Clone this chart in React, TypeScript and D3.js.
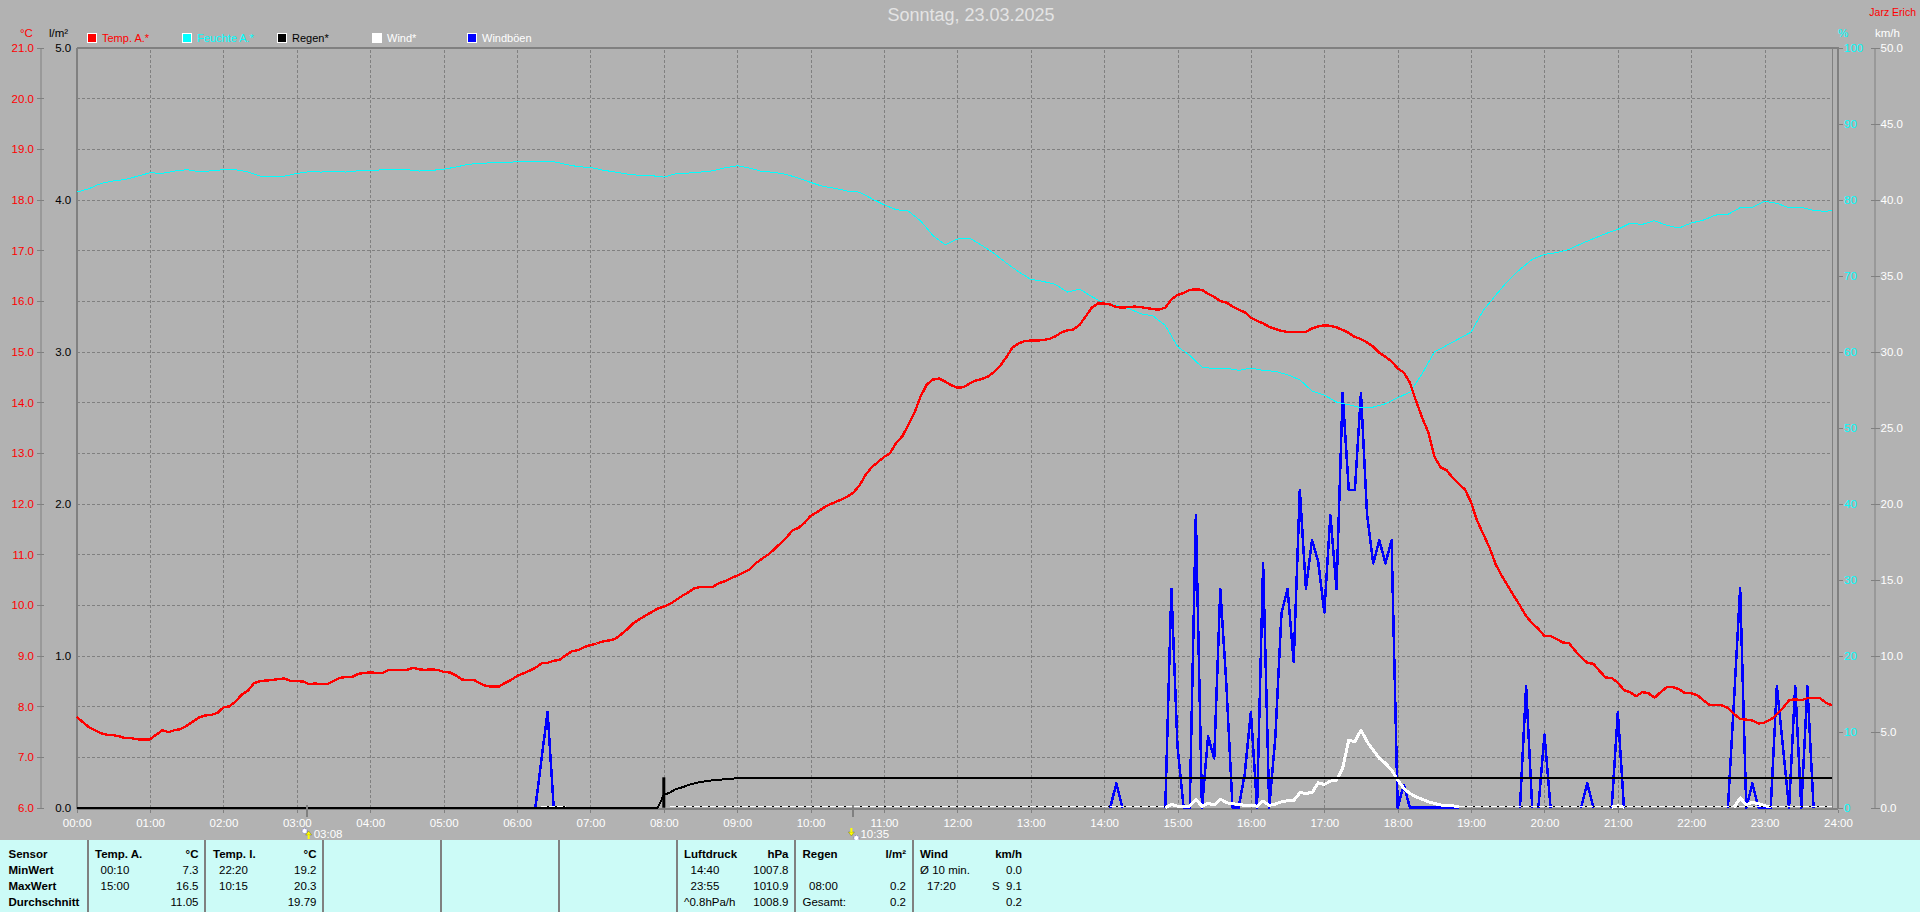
import React, { useEffect, useRef } from 'react';
import * as d3 from 'd3';

const tempA = [
  7.79, 7.69, 7.59, 7.53, 7.47, 7.44, 7.43, 7.41, 7.37, 7.37, 7.35, 7.35,
  7.35, 7.44, 7.53, 7.49, 7.53, 7.55, 7.62, 7.7, 7.78, 7.82, 7.83, 7.87,
  7.98, 8.0, 8.1, 8.23, 8.31, 8.46, 8.5, 8.51, 8.52, 8.54, 8.55, 8.5,
  8.5, 8.49, 8.44, 8.45, 8.44, 8.44, 8.5, 8.56, 8.58, 8.58, 8.64, 8.66,
  8.67, 8.66, 8.66, 8.72, 8.72, 8.72, 8.72, 8.76, 8.73, 8.72, 8.73, 8.72,
  8.68, 8.67, 8.61, 8.53, 8.52, 8.52, 8.45, 8.4, 8.39, 8.39, 8.46, 8.52,
  8.6, 8.65, 8.7, 8.76, 8.85, 8.86, 8.9, 8.92, 9.01, 9.09, 9.11, 9.17,
  9.21, 9.24, 9.28, 9.3, 9.33, 9.42, 9.52, 9.64, 9.72, 9.79, 9.86, 9.93,
  9.97, 10.02, 10.1, 10.18, 10.25, 10.33, 10.36, 10.36, 10.36, 10.43, 10.47, 10.53,
  10.58, 10.64, 10.7, 10.82, 10.91, 10.99, 11.09, 11.21, 11.32, 11.47, 11.52, 11.62,
  11.76, 11.83, 11.91, 11.98, 12.03, 12.08, 12.14, 12.22, 12.36, 12.57, 12.72, 12.82,
  12.92, 13.0, 13.2, 13.33, 13.56, 13.8, 14.12, 14.35, 14.45, 14.47, 14.41, 14.34,
  14.29, 14.3, 14.37, 14.43, 14.46, 14.51, 14.6, 14.72, 14.89, 15.08, 15.16, 15.21,
  15.22, 15.22, 15.23, 15.25, 15.3, 15.38, 15.42, 15.44, 15.53, 15.7, 15.87, 15.95,
  15.95, 15.93, 15.88, 15.87, 15.88, 15.89, 15.88, 15.86, 15.84, 15.83, 15.87, 16.03,
  16.12, 16.16, 16.22, 16.23, 16.22, 16.14, 16.08, 16.0, 15.97, 15.89, 15.83, 15.78,
  15.67, 15.61, 15.56, 15.49, 15.45, 15.41, 15.39, 15.39, 15.39, 15.39, 15.46, 15.5,
  15.52, 15.51, 15.48, 15.43, 15.37, 15.29, 15.25, 15.18, 15.1, 14.98, 14.9, 14.81,
  14.67, 14.59, 14.39, 14.03, 13.7, 13.41, 12.93, 12.72, 12.66, 12.51, 12.39, 12.28,
  12.03, 11.66, 11.4, 11.14, 10.81, 10.58, 10.38, 10.18, 9.99, 9.78, 9.64, 9.53,
  9.39, 9.39, 9.33, 9.26, 9.25, 9.1, 8.97, 8.86, 8.84, 8.7, 8.57, 8.56,
  8.47, 8.32, 8.28, 8.2, 8.28, 8.26, 8.17, 8.28, 8.38, 8.38, 8.34, 8.26,
  8.26, 8.22, 8.12, 8.03, 8.03, 8.02, 7.97, 7.85, 7.75, 7.74, 7.72, 7.66,
  7.68, 7.74, 7.84, 7.97, 8.12, 8.14, 8.12, 8.16, 8.17, 8.17, 8.07, 8.02,
];

const humidity = [
  81.0, 81.45, 82.15, 82.46, 82.68, 83.1,
  83.55, 83.46, 83.77, 83.95, 83.68, 83.8,
  83.95, 83.95, 83.64, 83.1, 83.1, 83.1,
  83.46, 83.68, 83.64, 83.73, 83.64, 83.8,
  83.8, 83.95, 83.95, 83.95, 83.77, 83.86,
  84.0, 84.3, 84.65, 84.78, 84.87, 84.87,
  85, 85, 85, 85, 84.65, 84.34,
  84.25, 83.9, 83.64, 83.38, 83.2, 83.16,
  82.98, 83.42, 83.5, 83.64, 83.8, 84.2,
  84.47, 84.17, 83.73, 83.6, 83.33, 82.85,
  82.28, 81.75, 81.5, 81.14, 81.0, 80.13,
  79.34, 78.68, 78.5, 77.2, 75.3, 74.08,
  74.82, 74.96, 73.99, 72.94, 71.67, 70.53,
  69.52, 69.25, 68.86, 67.85, 68.25, 67.24,
  66.4, 66.09, 65.7, 65.0, 64.7, 63.46,
  60.69, 59.51, 57.97, 57.76, 57.84, 57.54,
  57.84, 57.54, 57.41, 56.97, 56.31, 54.82,
  54.29, 53.37, 53.02, 52.62, 52.71, 53.15,
  53.94, 54.69, 57.1, 59.95, 60.83, 61.7,
  62.58, 65.43, 67.4, 69.3, 70.83, 72.15,
  72.8, 73.03, 73.46, 74.2, 74.87, 75.53,
  76.1, 76.9, 76.75, 77.24, 76.62, 76.27,
  76.93, 77.32, 77.98, 78.07, 78.95, 79.0,
  79.78, 79.52, 78.95, 79.0, 78.6, 78.46,
];

const rainMinutes = [0, 475, 480, 485, 490, 495, 500, 505, 510, 515, 520, 525, 530, 535, 540, 1435];
const rainValues = [0, 0, 0.083, 0.1, 0.123, 0.134, 0.149, 0.16, 0.169, 0.175, 0.18, 0.182, 0.189, 0.189, 0.195, 0.195];
const rainBarMinutes = [480];
const rainBarValues = [0.2];

// null splits the line: between the bursts the gauge stays hidden under the baseline
const gustMinutes = [
  375, 380, 385, 390, null,
  845, 850, 855, null,
  890, 895, 900, 905, 910, 915, 920, 925, 930, 935, 940, 945, 950, 955, 960, 965, 970, 975, 980, 985,
  990, 995, 1000, 1005, 1010, 1015, 1020, 1025, 1030, 1035, 1040, 1045, 1050, 1055, 1060, 1065, 1070,
  1075, 1080, 1085, 1090, 1130, null,
  1180, 1185, 1190, null,
  1195, 1200, 1205, null,
  1230, 1235, 1240, null,
  1255, 1260, 1265, null,
  1350, 1355, 1360, 1365, 1370, 1375, 1385, 1390, 1395, 1400, 1405, 1410, 1415, 1420,
];
const gustValues = [
  0, 3.2, 6.3, 0, null,
  0, 1.6, 0, null,
  0, 14.4, 4, 0, 0, 19.25, 0, 4.7, 3.25, 14.4, 8, 0, 0, 2.25, 6.3, 0, 16.07, 0, 4.67, 12.8,
  14.4, 9.6, 20.9, 14.4, 17.6, 16.2, 12.85, 19.25, 14.4, 27.3, 20.9, 20.9, 27.3, 19.25, 16.07, 17.6, 16.07,
  17.6, 0, 1.5, 0, 0, null,
  0, 8, 0, null,
  0, 4.8, 0, null,
  0, 1.6, 0, null,
  0, 6.3, 0, null,
  0, 7.1, 14.45, 0, 1.6, 0, 0, 8, 4, 0, 8, 0, 8, 0,
];

const windMinutes = [
  890, 895, 900, 905, 910, 915, 920, 925, 930, 935, 940, 945, 950, 955, 960, 965, 970, 975, 980, 985,
  990, 995, 1000, 1005, 1010, 1015, 1020, 1025, 1030, 1035, 1040, 1045, 1050, 1055, 1060, 1065, 1070,
  1075, 1080, 1085, 1090, 1095, 1100, 1105, 1110, 1115, 1120, 1125, 1130, null,
  1255, 1260, 1265, null,
  1355, 1360, 1365, 1370, 1375, 1380, 1385,
];
const windValues = [
  0, 0.22, 0.1, 0.1, 0.1, 0.55, 0.1, 0.28, 0.18, 0.57, 0.33, 0.26, 0.22, 0.15, 0.15, 0.1, 0.44, 0.15, 0.24, 0.39,
  0.46, 0.46, 0.99, 0.95, 0.99, 1.64, 1.53, 1.75, 1.82, 2.59, 4.45, 4.34, 5.11, 4.34, 3.79, 3.25, 2.92,
  2.48, 1.82, 1.27, 0.94, 0.72, 0.55, 0.39, 0.28, 0.18, 0.15, 0.13, 0.06, null,
  0.03, 0.13, 0.03, null,
  0.03, 0.64, 0.2, 0.35, 0.26, 0.13, 0.03,
];
const calmStart = [380, 485, 1130];
const calmEnd = [400, 890, 1435];

const tempTicks = d3.range(6, 22);
const rainTicks = d3.range(0, 6);
const humidityTicks = d3.range(0, 101, 10);
const windTicks = d3.range(0, 51, 5);
const hourTicks = d3.range(0, 25);
const eventMinutes = [188, 635];
const eventLabels = ['03:08', '10:35'];

const legendNames = ['Temp. A.*', 'Feuchte A.*', 'Regen*', 'Wind*', 'Windböen'];
const legendColors = ['#ff0000', '#00ffff', '#000000', '#ffffff', '#0000ff'];
const legendTextColors = ['#ff0000', '#00ffff', '#000000', '#ffffff', '#ffffff'];
const legendX = [87, 182, 277, 372, 467];

const rowLabels = ['Sensor', 'MinWert', 'MaxWert', 'Durchschnitt'];
const panelDividers = [88, 205, 323, 441, 559, 677, 795, 913];
const rowY = [858, 874, 890, 906];

// [left x, time x, right x, header, unit, times, values]
const panelBlocks: [number, number, number, string, string, string[], string[]][] = [
  [95, 100.5, 198.5, 'Temp. A.', '°C', ['00:10', '15:00', ''], ['7.3', '16.5', '11.05']],
  [213, 219, 316.5, 'Temp. I.', '°C', ['22:20', '10:15', ''], ['19.2', '20.3', '19.79']],
  [684, 690.5, 788.5, 'Luftdruck', 'hPa', ['14:40', '23:55', ''], ['1007.8', '1010.9', '1008.9']],
  [802.5, 809, 906, 'Regen', 'l/m²', ['', '08:00', ''], ['', '0.2', '0.2']],
  [920, 927, 1022, 'Wind', 'km/h', ['', '17:20', ''], ['0.0', 'S  9.1', '0.2']],
];

const W = 1920;
const H = 912;
const left = 76.7;
const right = 1838;
const top = 47.7;
const bottom = 807.7;
const BG = '#b2b2b2';
const GRID = '#808080';
const FONT = '"Liberation Sans", Arial, sans-serif';

const App = () => {
  const svgRef = useRef<SVGSVGElement>(null);

  useEffect(() => {
    const svg: any = d3.select(svgRef.current);
    svg.selectAll('*').remove();

    // scales
    const x = d3.scaleLinear().domain([0, 1440]).range([left, right]);
    const yTemp = d3.scaleLinear().domain([6, 21]).range([bottom, top]);
    const yRain = d3.scaleLinear().domain([0, 5]).range([bottom, top]);
    const yHum = d3.scaleLinear().domain([0, 100]).range([bottom, top]);
    const yWind = d3.scaleLinear().domain([0, 50]).range([bottom, top]);

    svg.append('rect').attr('width', W).attr('height', H).attr('fill', BG);

    const styleText = (g: any, color: string) =>
      g.selectAll('text').attr('fill', color).attr('font-family', FONT).attr('font-size', 11.5);

    // grid and x axis
    const xAxis = svg
      .append('g')
      .attr('transform', `translate(0,${bottom})`)
      .call(
        d3
          .axisBottom(x)
          .tickValues(hourTicks.map((h) => h * 60))
          .tickFormat((m: any) => `${String(m / 60).padStart(2, '0')}:00`)
          .tickSizeOuter(0),
      );
    xAxis.select('.domain').remove();
    xAxis
      .selectAll('line')
      .attr('y1', 5)
      .attr('y2', (d: number) => (d === 0 || d === 1440 ? 0 : top - bottom))
      .attr('stroke', GRID)
      .attr('stroke-dasharray', '3 2')
      .attr('shape-rendering', 'crispEdges');
    xAxis.selectAll('text').attr('y', 11);
    styleText(xAxis, '#ffffff');

    const hGrid = svg
      .append('g')
      .attr('transform', `translate(${left},0)`)
      .call(d3.axisRight(yTemp).tickValues(tempTicks.slice(1, -1)).tickSize(1832 - left).tickFormat(() => ''));
    hGrid.select('.domain').remove();
    hGrid
      .selectAll('line')
      .attr('stroke', GRID)
      .attr('stroke-dasharray', '3 2')
      .attr('shape-rendering', 'crispEdges');

    // frame
    const frame = svg.append('g').attr('stroke', GRID).attr('shape-rendering', 'crispEdges');
    frame.append('line').attr('x1', left).attr('x2', right + 1).attr('y1', top).attr('y2', top).attr('stroke-width', 2);
    frame.append('line').attr('x1', left).attr('x2', left).attr('y1', top).attr('y2', bottom + 1).attr('stroke-width', 2);
    frame.append('line').attr('x1', right).attr('x2', right).attr('y1', top).attr('y2', bottom + 1).attr('stroke-width', 2);
    frame.append('line').attr('x1', 1832).attr('x2', 1832).attr('y1', top).attr('y2', bottom);
    frame.append('line').attr('x1', left).attr('x2', right).attr('y1', bottom + 1).attr('y2', bottom + 1).attr('stroke-width', 2);

    // y axes
    const addAxis = (axis: any, xPos: number, color: string, lineFrom: number, lineTo: number, labelX: number, domain: boolean) => {
      const g = svg.append('g').attr('transform', `translate(${xPos},0)`).call(axis.tickSizeOuter(0));
      if (!domain) g.select('.domain').remove();
      else g.select('.domain').attr('stroke', GRID);
      g.selectAll('line').attr('x1', lineFrom).attr('x2', lineTo).attr('stroke', GRID).attr('shape-rendering', 'crispEdges');
      g.selectAll('text').attr('x', labelX);
      styleText(g, color);
    };
    const f1 = d3.format('.1f');
    addAxis(d3.axisLeft(yTemp).tickValues(tempTicks).tickFormat(f1 as any), 40.5, '#ff0000', -4, 3, -6.5, true);
    addAxis(d3.axisLeft(yRain).tickValues(rainTicks).tickFormat(f1 as any), left, '#000000', 0, -1, -5.5, false);
    addAxis(d3.axisRight(yHum).tickValues(humidityTicks), right, '#00ffff', 0, 5, 6, false);
    addAxis(d3.axisRight(yWind).tickValues(windTicks).tickFormat(f1 as any), 1874.5, '#ffffff', -4, 5, 6, true);

    // unit labels
    const unit = (tx: number, label: string, color: string, anchor = 'start') =>
      svg
        .append('text')
        .attr('x', tx)
        .attr('y', 37)
        .attr('fill', color)
        .attr('text-anchor', anchor)
        .attr('font-family', FONT)
        .attr('font-size', 11.5)
        .text(label);
    unit(20, '°C', '#ff0000');
    unit(49, 'l/m²', '#000000');
    unit(1838, '%', '#00ffff');
    unit(1875, 'km/h', '#ffffff');

    svg
      .append('text')
      .attr('x', 971)
      .attr('y', 21)
      .attr('text-anchor', 'middle')
      .attr('fill', '#e4e4e4')
      .attr('font-family', FONT)
      .attr('font-size', 18)
      .text('Sonntag, 23.03.2025');
    unit(1916, 'Jarz Erich', '#ff0000', 'end').attr('y', 16).attr('font-size', 10.5);

    // legend
    legendNames.forEach((name, i) => {
      svg
        .append('rect')
        .attr('x', legendX[i] + 0.5)
        .attr('y', 33.5)
        .attr('width', 9)
        .attr('height', 9)
        .attr('fill', legendColors[i])
        .attr('stroke', '#ffffff');
      svg
        .append('text')
        .attr('x', legendX[i] + 15)
        .attr('y', 42)
        .attr('fill', legendTextColors[i])
        .attr('font-family', FONT)
        .attr('font-size', 11)
        .text(name);
    });

    // series, bottom to top
    const drawLine = (minutes: (number | null)[], values: (number | null)[], y: any, color: string, width: number) => {
      const pts = minutes.map((m, i) => [m, values[i]] as [number | null, number | null]);
      const line = d3
        .line<[number | null, number | null]>()
        .defined((d) => d[0] !== null && d[1] !== null)
        .x((d) => x(d[0] as number))
        .y((d) => y(d[1] as number));
      svg
        .append('path')
        .attr('d', line(pts))
        .attr('fill', 'none')
        .attr('stroke', color)
        .attr('stroke-width', width)
        .attr('stroke-linejoin', 'round')
        .attr('shape-rendering', 'crispEdges');
    };

    drawLine(gustMinutes, gustValues, yWind, '#0000ff', 2.5);
    drawLine(windMinutes, windValues, yWind, '#ffffff', 3);

    calmStart.forEach((s, i) => {
      svg
        .append('line')
        .attr('x1', x(s))
        .attr('x2', x(calmEnd[i]))
        .attr('y1', yWind(0) - 1)
        .attr('y2', yWind(0) - 1)
        .attr('stroke', '#000000')
        .attr('stroke-width', 1)
        .attr('shape-rendering', 'crispEdges');
      svg
        .append('line')
        .attr('x1', x(s))
        .attr('x2', x(calmEnd[i]))
        .attr('y1', yWind(0) - 1)
        .attr('y2', yWind(0) - 1)
        .attr('stroke', '#ffffff')
        .attr('stroke-width', 1)
        .attr('stroke-dasharray', '6 2')
        .attr('shape-rendering', 'crispEdges');
    });

    rainBarMinutes.forEach((m, i) => {
      svg
        .append('rect')
        .attr('x', x(m) - 1.5)
        .attr('y', yRain(rainBarValues[i]))
        .attr('width', 3)
        .attr('height', yRain(0) - yRain(rainBarValues[i]))
        .attr('fill', '#000000');
    });
    drawLine(rainMinutes, rainValues, yRain, '#000000', 2);
    drawLine(humidity.map((_, i) => i * 10).concat(1435), humidity.concat(78.6), yHum, '#00ffff', 1);
    drawLine(tempA.map((_, i) => i * 5), tempA, yTemp, '#ff0000', 2.4);

    // sun markers under the axis
    eventMinutes.forEach((m, i) => {
      const ex = x(m);
      svg
        .append('line')
        .attr('x1', ex)
        .attr('x2', ex)
        .attr('y1', bottom - 3)
        .attr('y2', bottom + 9)
        .attr('stroke', GRID)
        .attr('stroke-width', 2)
        .attr('shape-rendering', 'crispEdges');
      svg
        .append('text')
        .attr('x', ex + 7)
        .attr('y', 838)
        .attr('fill', '#ffffff')
        .attr('font-family', FONT)
        .attr('font-size', 11.5)
        .text(eventLabels[i]);
      const up = i === 0;
      svg
        .append('circle')
        .attr('cx', up ? ex - 2 : ex + 3)
        .attr('cy', up ? 831 : 838)
        .attr('r', 2.5)
        .attr('fill', '#ffffff')
        .attr('stroke', '#4040c0')
        .attr('stroke-width', 0.6)
        .attr('stroke-dasharray', '1 1');
      const ax = up ? ex + 2 : ex - 2;
      const ay = up ? 835 : 832;
      const dir = up ? -1 : 1;
      svg
        .append('path')
        .attr('d', d3.line()([[ax - 3, ay], [ax + 3, ay], [ax, ay + dir * 4], [ax - 3, ay]]))
        .attr('fill', '#ffff00')
        .attr('stroke', '#404000')
        .attr('stroke-width', 0.3);
      svg
        .append('rect')
        .attr('x', ax - 1)
        .attr('y', up ? ay : ay - 4)
        .attr('width', 2)
        .attr('height', 4)
        .attr('fill', '#ffff00');
    });

    // summary panel
    const panel = svg.append('g').attr('font-family', FONT).attr('font-size', 11.5).attr('fill', '#000000');
    panel.append('rect').attr('y', 840).attr('width', W).attr('height', H - 840).attr('fill', '#ccfbf7');
    panelDividers.forEach((d) => {
      panel
        .append('line')
        .attr('x1', d)
        .attr('x2', d)
        .attr('y1', 840)
        .attr('y2', H)
        .attr('stroke', GRID)
        .attr('stroke-width', 2)
        .attr('shape-rendering', 'crispEdges');
    });
    rowLabels.forEach((r, i) => {
      panel.append('text').attr('x', 8.5).attr('y', rowY[i]).attr('font-weight', 'bold').text(r);
    });
    panelBlocks.forEach(([lx, tx, rx, header, unitName, times, values]) => {
      panel.append('text').attr('x', lx).attr('y', rowY[0]).attr('font-weight', 'bold').text(header);
      panel.append('text').attr('x', rx).attr('y', rowY[0]).attr('font-weight', 'bold').attr('text-anchor', 'end').text(unitName);
      times.forEach((t, i) => {
        panel.append('text').attr('x', tx).attr('y', rowY[i + 1]).text(t);
      });
      values.forEach((v, i) => {
        panel.append('text').attr('x', rx).attr('y', rowY[i + 1]).attr('text-anchor', 'end').attr('xml:space', 'preserve').text(v);
      });
    });
    panel.append('text').attr('x', 684).attr('y', rowY[3]).text('^0.8hPa/h');
    panel.append('text').attr('x', 802.5).attr('y', rowY[3]).text('Gesamt:');
    panel.append('text').attr('x', 920).attr('y', rowY[1]).text('Ø 10 min.');
  }, []);

  return <svg ref={svgRef} width={W} height={H} style={{ position: 'absolute', left: 0, top: 0, display: 'block' }} />;
};

export default App;
